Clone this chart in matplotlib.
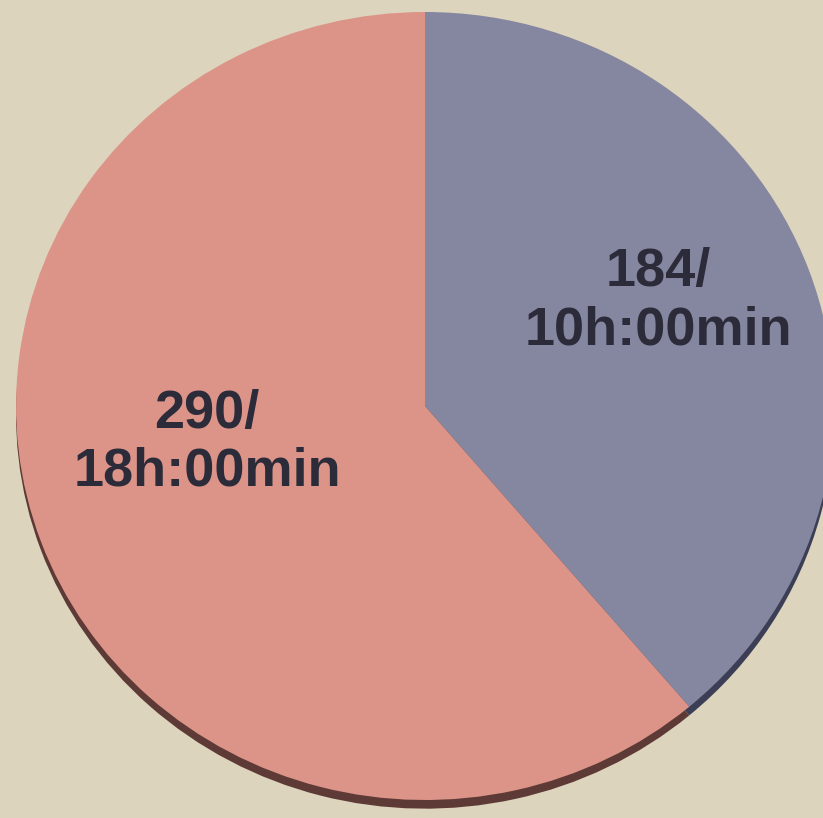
import matplotlib.pyplot as plt

# slices (clockwise from 12 o'clock)
counts = [184, 290]
labels = ["184/\n10h:00min", "290/\n18h:00min"]
colors = ["#8587a0", "#dc9488"]
shadow_colors = ["#3b3e55", "#5e3a36"]

fig = plt.figure(figsize=(8.23, 8.18), dpi=100)
fig.patch.set_facecolor("#ddd4be")
ax = fig.add_axes([0, 0, 1, 1])
ax.set_facecolor("#ddd4be")

# shadow pie, shifted down a little
ax.pie(counts, colors=shadow_colors, startangle=90, counterclock=False,
       center=(0.0, -0.022), radius=1.0, wedgeprops=dict(linewidth=0))

wedges, texts = ax.pie(counts, colors=colors, startangle=90, counterclock=False,
                       radius=1.0, wedgeprops=dict(linewidth=0))

# label positions in data units
label_pos = [(0.571, 0.266), (-0.533, -0.093)]
for (x, y), lab in zip(label_pos, labels):
    ax.text(x, y, lab, ha="center", va="center", fontsize=39, fontweight="bold",
            family=["Liberation Sans", "DejaVu Sans"], color="#2b2b3a",
            linespacing=1.2)

ax.set_aspect("auto")
ax.set_xlim(-425 / 409, (823 - 425) / 409)
ax.set_ylim(-(818 - 406) / 394, 406 / 394)
ax.axis("off")

fig.savefig("out.png", dpi=100, facecolor=fig.get_facecolor())
